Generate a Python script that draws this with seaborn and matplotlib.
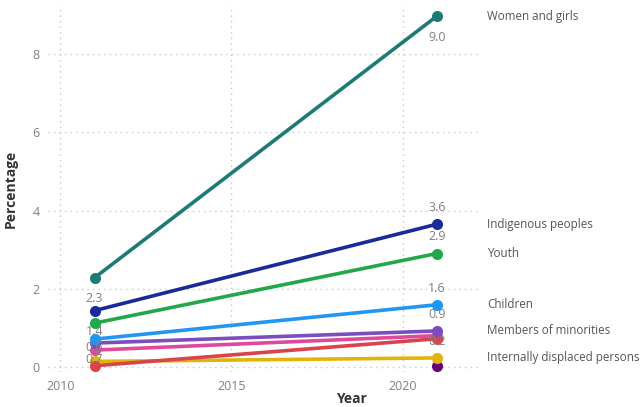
import pandas as pd
import matplotlib
matplotlib.use("Agg")
import matplotlib.pyplot as plt
import seaborn as sns

# --- Data ---
years = [2011, 2021]
groups = [
    "Other group C",
    "Other group A",
    "Internally displaced persons",
    "Other group B",
    "Members of minorities",
    "Children",
    "Youth",
    "Indigenous peoples",
    "Women and girls",
]
values_2011 = [None, 0.43, 0.14, 0.03, 0.61, 0.71, 1.12, 1.44, 2.28]
values_2021 = [0.03, 0.80, 0.23, 0.72, 0.92, 1.59, 2.90, 3.65, 8.97]
colors = ["#6A0078", "#DD4A9C", "#E2B409", "#D9434B", "#7C4DBE",
          "#2196F3", "#22A84A", "#1A2A9A", "#1E7B74"]

# which groups get a name at the line end
named = ["Women and girls", "Indigenous peoples", "Youth", "Children",
         "Members of minorities", "Internally displaced persons"]

# data labels: (group, year) -> vertical offset in points
label_offsets = {
    ("Women and girls", 2011): -15, ("Indigenous peoples", 2011): -15,
    ("Children", 2011): -15, ("Members of minorities", 2011): -3,
    ("Women and girls", 2021): -15, ("Indigenous peoples", 2021): 12,
    ("Youth", 2021): 12, ("Children", 2021): 12,
    ("Members of minorities", 2021): 12, ("Internally displaced persons", 2021): 12,
}

rows = []
for g, a, b in zip(groups, values_2011, values_2021):
    if a is not None:
        rows.append({"Year": years[0], "Percentage": a, "Group": g})
    rows.append({"Year": years[1], "Percentage": b, "Group": g})
df = pd.DataFrame(rows)

sns.set_theme(style="white")
plt.rcParams["font.family"] = ["Open Sans", "DejaVu Sans"]

fig = plt.figure(figsize=(6.44, 4.07), dpi=100)
ax = fig.add_axes([0.075, 0.086, 0.667, 0.902])

sns.lineplot(data=df, x="Year", y="Percentage", hue="Group", hue_order=groups,
             palette=dict(zip(groups, colors)), marker="o", markersize=8,
             markeredgewidth=0, linewidth=2.6, legend=False, ax=ax)

ax.set_xlim(2009.65, 2022.2)
ax.set_ylim(-0.13, 9.26)
ax.set_xticks([2010, 2015, 2020])
ax.set_yticks([0, 2, 4, 6, 8])
ax.grid(True, linestyle=(0, (1, 3)), color="#c8c8c8", linewidth=1)
for s in ax.spines.values():
    s.set_visible(False)
ax.tick_params(axis="both", colors="#808080", labelsize=9, length=0, pad=6)
ax.set_xlabel("Year", fontsize=10, fontweight="bold", color="#333333")
ax.set_ylabel("Percentage", fontsize=10, fontweight="bold", color="#333333")
ax.xaxis.set_label_coords(0.705, -0.055)
ax.yaxis.set_label_coords(-0.07, 0.5)

# data labels
for (g, yr), off in label_offsets.items():
    v = df[(df.Group == g) & (df.Year == yr)]["Percentage"].iloc[0]
    ax.annotate(f"{v:.1f}", (yr, v), xytext=(0, off), textcoords="offset points",
                ha="center", va="center", fontsize=9, color="#808080")

# series names on the right
for g in named:
    v = df[(df.Group == g) & (df.Year == 2021)]["Percentage"].iloc[0]
    ax.annotate(g, (1.0, v), xycoords=("axes fraction", "data"), xytext=(6.5, 0),
                textcoords="offset points", ha="left", va="center",
                fontsize=8.4, color="#555555", annotation_clip=False)

fig.savefig("out.png", dpi=100)
